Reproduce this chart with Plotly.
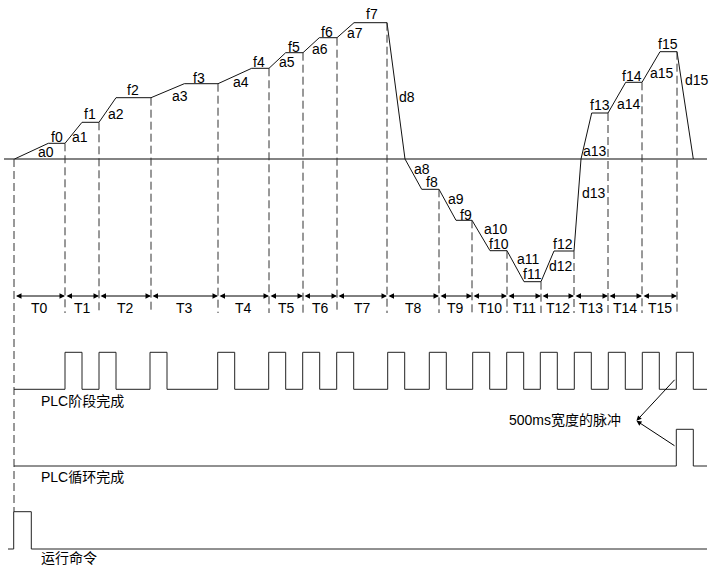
import plotly.graph_objects as go

# ---------------- data ----------------
stage_start = 14.5
stage_ends = [65, 99, 151, 218, 269, 303, 337, 387, 439, 472, 507, 541, 574, 608, 642, 677]
accel_ends = [48.3, 82, 116, 184.3, 251.7, 285.7, 319.3, 354, 421.7, 456, 490, 524, 554, 591.7, 625.7, 660]
freqs = [15.7, 36.7, 61.3, 75.3, 90.7, 106.3, 121.3, 136.3,
         -30.3, -61.3, -91.7, -122.7, -92, 46, 76.7, 107.3]
zero_cross_stage = [8, 13]
zero_cross_time = [405, 581]
stop_time = 693.3
stage_names = ["T%d" % i for i in range(16)]

pulse_starts = [65, 99, 150, 217.7, 268.7, 302.7, 336.7, 387.7, 429.3, 472.7,
                506.7, 540.3, 574.3, 608.3, 642.3, 676.3]
pulse_width = 17
cycle_pulse_start = 676.3
run_pulse_start = 13.7
run_pulse_width = 17.6

curve_labels = ["a0", "f0", "a1", "f1", "a2", "f2", "a3", "f3", "a4", "f4", "a5", "f5",
                "a6", "f6", "a7", "f7", "d8", "a8", "f8", "a9", "f9", "a10", "f10",
                "a11", "f11", "d12", "f12", "d13", "a13", "f13", "a14", "f14",
                "a15", "f15", "d15"]
label_x = [45.7, 57.3, 80, 90, 116, 132.7, 180.3, 199.3, 240.7, 259.3, 286.7, 294,
           320, 327.3, 354.7, 371.7, 406.7, 421.7, 431.7, 455.7, 465.7, 496, 498.7,
           528.3, 532, 561, 563.3, 594, 595.3, 599.7, 629.3, 631.7, 662, 668, 697.3]
label_y = [7, 22.3, 22.3, 45, 45, 69, 63, 81.3, 77.3, 97, 97, 112.3,
           109.7, 127.3, 126.3, 144.7, 61.7, -10, -23.3, -40, -56, -70, -85,
           -100.3, -115, -107.3, -85, -34.3, 8.3, 54, 55.3, 83, 85.7, 114.7, 79]

# row levels (vertical layout, in same units as frequency)
axis_left, axis_right = 4, 707
t_row_y = -137
t_label_y = -149
dash_bottom = -154
stage_row_base, stage_row_top = -230.3, -193.3
cycle_row_base, cycle_row_top = -307, -270.3
run_row_base, run_row_top = -390, -352.7

FONT = "Liberation Sans, Arial, Noto Sans CJK SC, sans-serif"
fig = go.Figure()

# frequency baseline
fig.add_trace(go.Scatter(x=[axis_left, axis_right], y=[0, 0], mode="lines",
                         line=dict(color="#5a5a5a", width=1.3), hoverinfo="skip"))

# frequency curve
cx, cy = [stage_start], [0]
for i, (ae, se, f) in enumerate(zip(accel_ends, stage_ends, freqs)):
    if i in zero_cross_stage:
        cx.append(zero_cross_time[zero_cross_stage.index(i)])
        cy.append(0)
    cx += [ae, se]
    cy += [f, f]
cx.append(stop_time)
cy.append(0)
fig.add_trace(go.Scatter(x=cx, y=cy, mode="lines",
                         line=dict(color="#111", width=1), hoverinfo="skip"))

# dashed vertical lines
dx, dy = [stage_start - 0.5, stage_start - 0.5, None], [0, run_row_top, None]
for se, f in zip(stage_ends, freqs):
    dx += [se, se, None]
    dy += [f, dash_bottom, None]
fig.add_trace(go.Scatter(x=dx, y=dy, mode="lines",
                         line=dict(color="#333", width=1, dash="8px,4px"), hoverinfo="skip"))

# pulse rows
def pulse_trace(starts, width, base, top, x0, x1):
    px, py = [x0], [base]
    for s in starts:
        px += [s, s, s + width, s + width]
        py += [base, top, top, base]
    px.append(x1)
    py.append(base)
    return go.Scatter(x=px, y=py, mode="lines",
                      line=dict(color="#222", width=1), hoverinfo="skip")

fig.add_trace(pulse_trace(pulse_starts, pulse_width, stage_row_base, stage_row_top, 14, axis_right))
fig.add_trace(pulse_trace([cycle_pulse_start], pulse_width, cycle_row_base, cycle_row_top, 14, axis_right))
fig.add_trace(pulse_trace([run_pulse_start], run_pulse_width, run_row_base, run_row_top, 8, axis_right))

ann = []
# curve labels
for t, x, y in zip(curve_labels, label_x, label_y):
    ann.append(dict(x=x, y=y, text=t, showarrow=False, xanchor="center", yanchor="middle",
                    font=dict(family=FONT, size=14, color="#000")))

# T arrows and labels
bounds = [stage_start] + stage_ends
for i, name in enumerate(stage_names):
    a, b = bounds[i], bounds[i + 1]
    ann.append(dict(x=b, y=t_row_y, ax=a, ay=t_row_y, axref="x", ayref="y", xref="x", yref="y",
                    text="", showarrow=True, arrowside="end+start", arrowhead=2, startarrowhead=2,
                    arrowsize=1.1, startarrowsize=1.1, arrowwidth=1, arrowcolor="#000",
                    standoff=0, startstandoff=0))
    ann.append(dict(x=(a + b) / 2, y=t_label_y, text=name, showarrow=False,
                    xanchor="center", yanchor="middle",
                    font=dict(family=FONT, size=14, color="#000")))

# row labels
row_texts = ["PLC阶段完成", "PLC循环完成", "运行命令"]
row_label_y = [stage_row_base - 11.4, cycle_row_base - 11, run_row_base - 8.5]
for t, y in zip(row_texts, row_label_y):
    ann.append(dict(x=39, y=y, text=t, showarrow=False, xanchor="left", yanchor="middle",
                    font=dict(family=FONT, size=14, color="#000")))

# pulse-width note with arrows
note_y = -261
ann.append(dict(x=506.7, y=note_y, text="500ms宽度的脉冲", showarrow=False,
                xanchor="left", yanchor="middle", font=dict(family=FONT, size=14, color="#000")))
arrow_tails = [(676, -219.3), (676, -287.7)]
for tx, ty in arrow_tails:
    ann.append(dict(x=636.5, y=note_y - 0.8, ax=tx, ay=ty, axref="x", ayref="y", xref="x", yref="y",
                    text="", showarrow=True, arrowhead=2, arrowsize=1, arrowwidth=1,
                    arrowcolor="#000", standoff=0))

fig.update_layout(
    width=710, height=566, margin=dict(l=0, r=0, t=0, b=0),
    paper_bgcolor="white", plot_bgcolor="white", showlegend=False,
    xaxis=dict(range=[0, 710], visible=False, fixedrange=True),
    yaxis=dict(range=[-407, 159], visible=False, fixedrange=True),
    annotations=ann,
)
fig.write_html("out.html", config={"displayModeBar": False},
               post_script="document.body.style.margin='0';document.body.style.overflow='hidden';")
